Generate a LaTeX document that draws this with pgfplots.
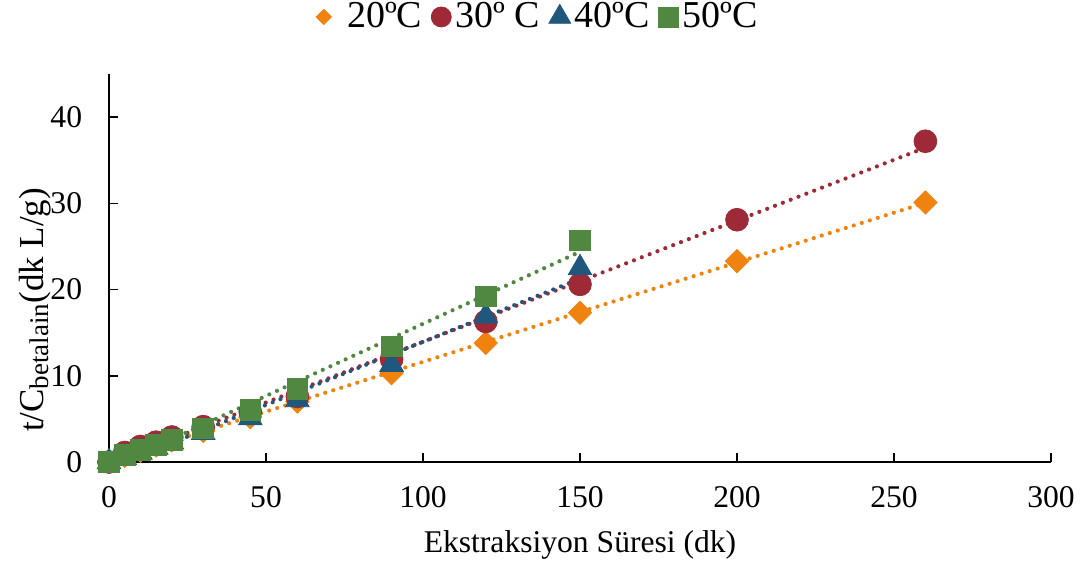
\documentclass[border=0pt]{standalone}
\usepackage{fontspec}
\setmainfont{Liberation Serif}
\usepackage{pgfplots}
\usepackage{pgfplotstable}
\pgfplotsset{compat=1.18}

\definecolor{c20}{HTML}{F0820F}
\definecolor{c30}{HTML}{9E2A37}
\definecolor{c40}{HTML}{1F577D}
\definecolor{c50}{HTML}{508741}

% t/C values against extraction time (min), one table per temperature
\pgfplotstableread{
t v
0 0
5 0.7
10 1.3
15 1.9
20 2.5
30 3.6
45 5.2
60 7.0
90 10.3
120 13.8
150 17.3
200 23.3
260 30.1
}\tabA
\pgfplotstableread{
t v
0 0
5 1.1
10 1.8
15 2.3
20 2.9
30 4.1
45 5.8
60 7.6
90 11.9
120 16.3
150 20.6
200 28.1
260 37.2
}\tabB
\pgfplotstableread{
t v
0 0
5 0.5
10 1.1
15 1.7
20 2.3
30 3.4
45 5.1
60 7.2
90 11.3
120 16.9
150 22.5
}\tabC
\pgfplotstableread{
t v
0 0
5 0.8
10 1.4
15 2.0
20 2.6
30 3.9
45 6.0
60 8.5
90 13.4
120 19.2
150 25.7
}\tabD

\pgfplotsset{
  trend/.style={forget plot, no marks, line width=2.1bp, line cap=round, dash pattern=on 0bp off 4.2bp},
  % the small legend diamond keeps a wider slot before its text
  diamond legend/.style={legend image code/.code={%
    \path (-4.1bp,0bp) (9.5bp,0bp); \draw[##1] plot coordinates {(0bp,0bp)};}},
}

\begin{document}
\fontsize{15.8bp}{19bp}\selectfont
\begin{tikzpicture}
\useasboundingbox (-54.5bp,-53bp) rectangle (487bp,231bp);
\begin{axis}[
  at={(0,0)}, anchor=south west,
  scale only axis, width=471bp, height=194bp,
  xmin=0, xmax=300, ymin=0, ymax=45,
  xtick={0,50,...,300}, ytick={0,10,...,40},
  axis x line*=bottom, axis y line*=left,
  axis line style={-, black, line width=0.75bp},
  tick align=inside, major tick length=4.5bp,
  tick style={black, line width=0.75bp},
  /pgf/number format/assume math mode=true,
  xticklabel style={yshift=-7bp},
  yticklabel style={xshift=-8bp},
  xlabel={Ekstraksiyon Süresi (dk)},
  xlabel style={at={(axis description cs:0.5,-0.214)}, anchor=center},
  ylabel={\fontsize{17.5bp}{20bp}\selectfont t/C\raisebox{-0.35ex}{\fontsize{13.5bp}{15bp}\selectfont betalain}(dk L/g)},
  ylabel style={at={(axis description cs:-0.0786,0.392)}, anchor=center},
  legend columns=4,
  legend style={at={(0.456,1.147)}, anchor=center, draw=none, fill=none,
    font=\fontsize{19bp}{22bp}\selectfont,
    /tikz/every even column/.append style={column sep=2.5bp}},
  legend image code/.code={\draw[#1] plot coordinates {(0bp,0bp)};},
  clip=false,
]
\addplot[only marks, mark=square*, mark size=4.1bp, mark options={rotate=45}, color=c20,
  legend image post style={mark size=2.7bp}, diamond legend]
  table[x=t, y=v] {\tabA};
\addlegendentry{20ºC}
\addplot[only marks, mark=*, mark size=5.7bp, color=c30,
  legend image post style={mark size=5bp}] table[x=t, y=v] {\tabB};
\addlegendentry{30º C}
\addplot[only marks, mark=triangle*, mark size=6.8bp, color=c40,
  legend image post style={mark size=6.3bp}] table[x=t, y=v] {\tabC};
\addlegendentry{40ºC}
\addplot[only marks, mark=square*, mark size=5.2bp, color=c50,
  legend image post style={mark size=5bp}] table[x=t, y=v] {\tabD};
\addlegendentry{50ºC}

% linear trendlines, dotted
\addplot[trend, c20] table[x=t, y={create col/linear regression={y=v}}] {\tabA};
\addplot[trend, c30] table[x=t, y={create col/linear regression={y=v}}] {\tabB};
\addplot[trend, c40] table[x=t, y={create col/linear regression={y=v}}] {\tabC};
\addplot[trend, c50] table[x=t, y={create col/linear regression={y=v}}] {\tabD};
\end{axis}
\end{tikzpicture}
\end{document}
